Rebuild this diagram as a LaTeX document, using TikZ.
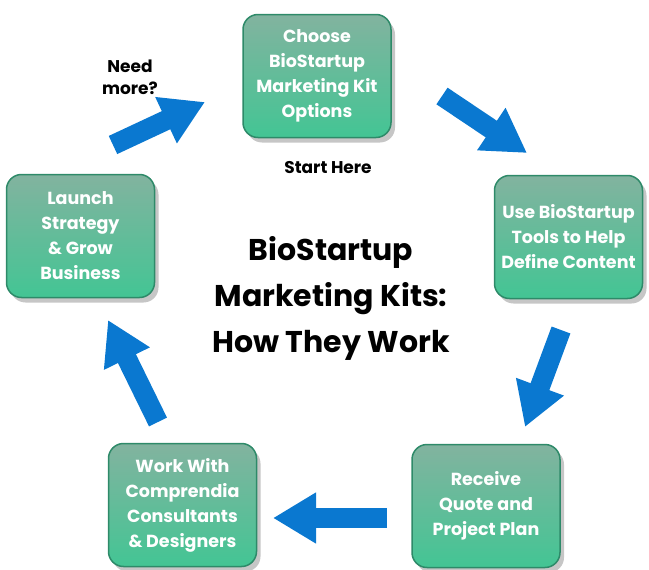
\documentclass[tikz,border=0pt]{standalone}
\usepackage{fontspec}
\setmainfont{Poppins}
\usetikzlibrary{arrows.meta,shadows}
\definecolor{kittop}{HTML}{82B39F}
\definecolor{kitmid}{HTML}{8EC3AA}
\definecolor{kitbot}{HTML}{43C594}
\definecolor{kitline}{HTML}{2E8A69}
\definecolor{flowblue}{HTML}{0A78D0}
\begin{document}
\begin{tikzpicture}
  [x=1pt,y=-1pt,every node/.style={font=\bfseries,align=center}]
  \tikzstyle{kitbox} = [rounded corners=15pt,draw=kitline,line width=1.5pt,
     top color=kittop,middle color=kitmid,bottom color=kitbot,
     minimum width=148pt,minimum height=123pt,inner sep=0pt,text=white,
     font=\bfseries\fontsize{17.5}{25}\selectfont,
     drop shadow={shadow xshift=4pt,shadow yshift=-5pt,opacity=.45}]
  \tikzstyle{flow} = [draw=flowblue,line width=20pt,
     -{Triangle[width=48pt,length=43pt,fill=flowblue]}]
  \useasboundingbox (0,0) rectangle (649,570);
  \node[kitbox] (choose) at (317,76)  {Choose\\BioStartup\\Marketing Kit\\Options};
  \node[kitbox] (tools)  at (568.5,237) {Use BioStartup\\Tools to Help\\Define Content};
  \node[kitbox] (quote)  at (486,506)   {Receive\\Quote and\\Project Plan};
  \node[kitbox] (work)   at (182.5,505) {Work With\\Comprendia\\Consultants\\\& Designers};
  \node[kitbox] (launch) at (80.5,236)  {Launch\\Strategy\\\& Grow\\Business};
  \node[font=\bfseries\fontsize{30}{46}\selectfont] (title) at (331,298)
     {BioStartup\\Marketing Kits:\\How They Work};
  \node[font=\bfseries\fontsize{17}{22}\selectfont] (start) at (328,168) {Start Here};
  \node[font=\bfseries\fontsize{17}{22}\selectfont] (need) at (130,77) {Need\\more?};
  \coordinate (t1) at (442,96);  \coordinate (h1) at (527,153);
  \coordinate (t2) at (561,330); \coordinate (h2) at (525,427);
  \coordinate (t3) at (387,518); \coordinate (h3) at (273,518);
  \coordinate (t4) at (158,422); \coordinate (h4) at (108,320);
  \coordinate (t5) at (113,145); \coordinate (h5) at (205,102);
  \foreach \source /\dest in {t1/h1,t2/h2,t3/h3,t4/h4,t5/h5}
   \draw[flow] (\source) -- (\dest);
\end{tikzpicture}
\end{document}
